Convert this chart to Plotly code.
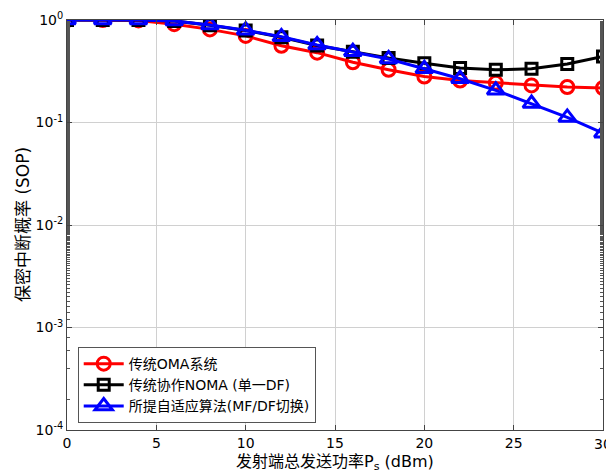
import plotly.graph_objects as go

power = [0, 2, 4, 6, 8, 10, 12, 14, 16, 18, 20, 22, 24, 26, 28, 30]
sop_oma = [1.0, 1.0, 0.99, 0.91, 0.81, 0.70, 0.56, 0.48, 0.387, 0.327, 0.281, 0.257, 0.244, 0.23, 0.222, 0.217]
sop_noma_df = [1.0, 1.0, 1.0, 0.98, 0.89, 0.79, 0.68, 0.565, 0.49, 0.426, 0.378, 0.341, 0.327, 0.334, 0.373, 0.44]
sop_adaptive = [1.0, 1.0, 1.0, 0.98, 0.895, 0.795, 0.685, 0.57, 0.49, 0.417, 0.334, 0.267, 0.206, 0.153, 0.112, 0.0787]

names = ["传统OMA系统", "传统协作NOMA (单一DF)", "所提自适应算法(MF/DF切换)"]
colors = ["#ff0000", "#000000", "#0000ff"]
symbols = ["circle-open", "square-open", "triangle-up-open"]
sizes = [13, 11, 15]

y_tickvals = [1e-4, 1e-3, 1e-2, 1e-1, 1]
y_ticktext = ["10<sup>-4</sup>", "10<sup>-3</sup>", "10<sup>-2</sup>", "10<sup>-1</sup>", "10<sup>0</sup>"]
x_tickvals = [0, 5, 10, 15, 20, 25, 30]
x_title = "发射端总发送功率P<sub>s</sub> (dBm)"
y_title = "保密中断概率 (SOP)"

fig = go.Figure()
for ys, nm, c, s, sz in zip([sop_oma, sop_noma_df, sop_adaptive], names, colors, symbols, sizes):
    fig.add_trace(go.Scatter(
        x=power, y=ys, name=nm, mode="lines+markers",
        line=dict(color=c, width=3),
        marker=dict(symbol=s, size=sz, color=c, line=dict(width=3, color=c)),
    ))

font_family = "DejaVu Sans, Noto Sans CJK SC, sans-serif"

# last x tick label (cut by the picture edge, as in the reference)
fig.add_annotation(x=x_tickvals[-1], y=0, xref="x", yref="paper", yanchor="top",
                   yshift=-4, text=str(x_tickvals[-1]), showarrow=False,
                   font=dict(size=14, color="black", family=font_family))
# axis titles
fig.add_annotation(x=0.5, y=0, xref="paper", yref="paper", yanchor="middle",
                   yshift=-32, text=x_title, showarrow=False,
                   font=dict(size=16, color="black", family=font_family))
fig.add_annotation(x=0, y=0.5, xref="paper", yref="paper", xanchor="center",
                   xshift=-44, text=y_title, textangle=-90, showarrow=False,
                   font=dict(size=17, color="black", family=font_family))

fig.update_layout(
    width=606, height=471,
    margin=dict(l=67, r=3, t=20, b=41),
    paper_bgcolor="white", plot_bgcolor="white",
    font=dict(family=font_family, size=14, color="black"),
    showlegend=True,
    legend=dict(
        x=0.02, y=0.017, xanchor="left", yanchor="bottom",
        bgcolor="white", bordercolor="#555555", borderwidth=1,
        font=dict(size=14, family=font_family),
        tracegroupgap=0, itemwidth=40,
    ),
    xaxis=dict(
        range=[0, 30], tickvals=x_tickvals, ticks="inside", ticklen=5,
        showgrid=True, gridcolor="#d0d0d0", gridwidth=1,
        showline=True, linecolor="#444444", linewidth=1, mirror="ticks",
        zeroline=False, tickfont=dict(size=14), automargin=False,
    ),
    yaxis=dict(
        type="log", range=[-4, 0], tickvals=y_tickvals, ticktext=y_ticktext,
        ticks="inside", ticklen=5,
        showgrid=True, gridcolor="#d0d0d0", gridwidth=1,
        showline=True, linecolor="#444444", linewidth=1, mirror="allticks",
        zeroline=False, tickfont=dict(size=14), automargin=False,
        minor=dict(ticks="inside", ticklen=3, tickcolor="#555555", showgrid=False),
    ),
)

fig.write_html("out.html")
